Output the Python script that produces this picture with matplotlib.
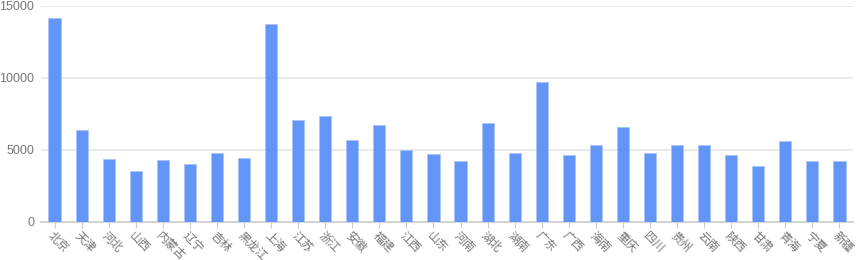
import matplotlib
matplotlib.use("Agg")
from matplotlib import pyplot as plt
import numpy

plt.rcParams['font.family'] = ['Noto Sans CJK SC', 'DejaVu Sans']

provinces = ["北京", "天津", "河北", "山西", "内蒙古", "辽宁", "吉林", "黑龙江", "上海", "江苏",
             "浙江", "安徽", "福建", "江西", "山东", "河南", "湖北", "湖南", "广东", "广西",
             "海南", "重庆", "四川", "贵州", "云南", "陕西", "甘肃", "青海", "宁夏", "新疆"]
values = [14150, 6370, 4350, 3540, 4330, 4030, 4770, 4440, 13730, 7080,
          7340, 5670, 6710, 5020, 4720, 4240, 6880, 4790, 9720, 4630,
          5370, 6570, 4770, 5320, 5320, 4680, 3870, 5600, 4210, 4260]
yticks = [0, 5000, 10000, 15000]

fig = plt.figure(figsize=(8.6, 2.6), dpi=100)
ax = fig.add_axes([41 / 860, 38 / 260, 812 / 860, 216 / 260])

x = numpy.arange(len(provinces))
ax.bar(x, values, width=0.45, color="#6394f7", edgecolor="#a9c4f8", linewidth=0.6, zorder=3)

ax.set_xlim(-0.5, len(provinces) - 0.5)
ax.set_ylim(0, 15000)
ax.set_yticks(yticks)
ax.set_yticklabels([str(v) for v in yticks], fontsize=9, color="#777777",
                   family=["Liberation Sans", "DejaVu Sans"])
ax.yaxis.grid(True, color="#e6e6e6", linewidth=1.2, zorder=0)
ax.tick_params(axis="y", length=0, pad=5)

ax.set_xticks(x)
ax.set_xticklabels(provinces, fontsize=8.5, color="#777777", rotation=-45,
                   ha="left", va="top", rotation_mode="anchor")
ax.tick_params(axis="x", length=4, color="#cccccc", pad=1)

for s in ["top", "right", "left"]:
    ax.spines[s].set_visible(False)
ax.spines["bottom"].set_color("#cccccc")
ax.spines["bottom"].set_linewidth(1.2)

fig.savefig("out.png", dpi=100)
